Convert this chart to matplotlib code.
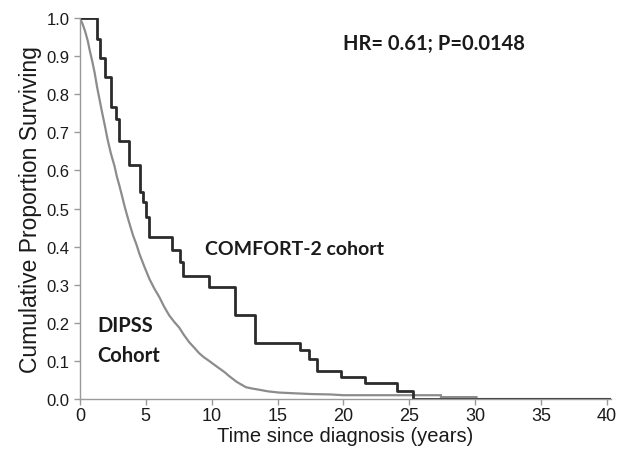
import matplotlib.pyplot as plt

# COMFORT-2 cohort (Kaplan-Meier steps: time of drop, survival after)
comfort_t = [0, 1.31, 1.56, 1.89, 2.39, 2.72, 2.97, 3.72, 4.53, 4.78, 5.03, 5.21,
             7.0, 7.6, 7.8, 9.81, 11.75, 13.3, 16.7, 17.4, 18.0, 19.8, 21.6,
             24.1, 25.3, 40.3]
comfort_s = [1.0, 0.945, 0.894, 0.844, 0.767, 0.735, 0.678, 0.615, 0.543, 0.516,
             0.477, 0.424, 0.39, 0.36, 0.324, 0.293, 0.22, 0.147, 0.129, 0.105,
             0.073, 0.057, 0.042, 0.02, 0.0, 0.0]

# DIPSS cohort (dense curve)
dipss_t = [0, 0.2, 0.4, 0.6, 0.75, 0.95, 1.13, 1.3, 1.5, 1.7, 1.9, 2.1, 2.35, 2.64,
           2.8, 3.0, 3.2, 3.4, 3.7, 4.03, 4.3, 4.53, 4.9, 5.28, 5.65, 6.04, 6.4,
           6.79, 7.15, 7.55, 7.9, 8.3, 8.7, 9.06, 9.4, 9.81, 10.2, 10.6, 11.0,
           11.3, 11.9, 12.6, 13.0, 13.5, 14.3, 15.1, 16.3, 17.6, 19.0, 20.0,
           27.4, 27.4, 30.1, 30.1, 40.3]
dipss_s = [1.0, 0.985, 0.965, 0.94, 0.915, 0.885, 0.855, 0.82, 0.785, 0.75, 0.717,
           0.682, 0.645, 0.61, 0.585, 0.56, 0.533, 0.505, 0.468, 0.43, 0.405,
           0.38, 0.347, 0.315, 0.29, 0.267, 0.242, 0.219, 0.203, 0.187, 0.168,
           0.149, 0.134, 0.12, 0.11, 0.1, 0.09, 0.08, 0.07, 0.061, 0.045, 0.031,
           0.028, 0.025, 0.02, 0.017, 0.015, 0.013, 0.012, 0.01, 0.01, 0.005,
           0.005, 0.0, 0.0]

xticks = [0, 5, 10, 15, 20, 25, 30, 35, 40]
yticks = [0.0, 0.1, 0.2, 0.3, 0.4, 0.5, 0.6, 0.7, 0.8, 0.9, 1.0]

fig = plt.figure(figsize=(6.19, 4.52), dpi=100)
ax = fig.add_axes([0.129, 0.115, 0.858, 0.843])

ax.plot(dipss_t, dipss_s, color="#8c8c8c", lw=1.6, solid_joinstyle="miter")
ax.plot(comfort_t, comfort_s, drawstyle="steps-post", color="#2b2b2b", lw=2.0)

ax.set_xlim(0, 40.3)
ax.set_ylim(0, 1.0)
ax.set_xticks(xticks)
ax.set_yticks(yticks)
ax.set_yticklabels([f"{v:.1f}" for v in yticks])

for s in ["top", "right"]:
    ax.spines[s].set_visible(False)
for s in ["left", "bottom"]:
    ax.spines[s].set_color("#9a9a9a")
    ax.spines[s].set_linewidth(1.0)
ax.tick_params(axis="both", colors="#9a9a9a", length=4, width=1.0,
               labelcolor="#1a1a1a")
ax.tick_params(axis="x", labelsize=13, pad=2)
ax.tick_params(axis="y", labelsize=12)
for lab in ax.get_xticklabels() + ax.get_yticklabels():
    lab.set_family("Liberation Sans")

ax.set_xlabel("Time since diagnosis (years)", family="Liberation Sans",
              fontsize=14.5, color="#1a1a1a", labelpad=1)
ax.set_ylabel("Cumulative Proportion Surviving", family="Liberation Sans",
              fontsize=16.5, color="#1a1a1a", labelpad=3)

bold = dict(family="Lato", fontweight="bold", color="#1a1a1a", fontsize=14.5)
ax.text(20.0, 0.935, "HR= 0.61; P=0.0148", ha="left", va="center", **bold)
ax.text(9.5, 0.395, "COMFORT-2 cohort", ha="left", va="center", fontsize=14,
        **{k: v for k, v in bold.items() if k != "fontsize"})
ax.text(1.3, 0.195, "DIPSS", ha="left", va="center", **bold)
ax.text(1.3, 0.115, "Cohort", ha="left", va="center", **bold)

fig.savefig("out.png", dpi=100)
